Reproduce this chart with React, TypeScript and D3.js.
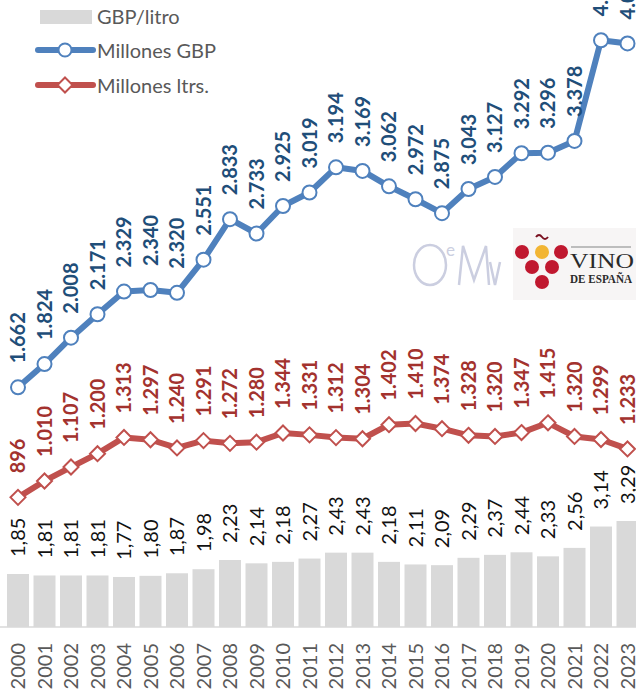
import React from "react";
import * as d3 from "d3";

const years = ["2000","2001","2002","2003","2004","2005","2006","2007","2008","2009","2010","2011","2012","2013","2014","2015","2016","2017","2018","2019","2020","2021","2022","2023"];
const millonesGbp = [1662,1824,2008,2171,2329,2340,2320,2551,2833,2733,2925,3019,3194,3169,3062,2972,2875,3043,3127,3292,3296,3378,4079,4057];
const millonesLtrs = [896,1010,1107,1200,1313,1297,1240,1291,1272,1280,1344,1331,1312,1304,1402,1410,1374,1328,1320,1347,1415,1320,1299,1233];
const gbpLitro = [1.85,1.81,1.81,1.81,1.77,1.80,1.87,1.98,2.23,2.14,2.18,2.27,2.43,2.43,2.18,2.11,2.09,2.29,2.37,2.44,2.33,2.56,3.14,3.29];
const legendLabels = ["GBP/litro", "Millones GBP", "Millones ltrs."];

const width = 636;
const height = 697;
const font = "Lato, 'Open Sans', sans-serif";

const es = d3.formatLocale({ decimal: ",", thousands: ".", grouping: [3], currency: ["", "€"] });
const fmtInt = es.format(",d");
const fmtDec = es.format(".2f");

const diamond = (cx: number, cy: number, r: number) =>
  `M${cx},${cy - r}L${cx + r},${cy}L${cx},${cy + r}L${cx - r},${cy}Z`;

const App = () => {
  const x = d3.scaleBand().domain(years).range([4.75, 640.75]).paddingInner(0.17).paddingOuter(0.085);
  const cx = (y: string) => (x(y) ?? 0) + x.bandwidth() / 2;
  const yLine = d3.scaleLinear().domain([0, 4500]).range([626, 626 - 143.6 * 4.5]);
  const yBar = d3.scaleLinear().domain([0.41, 4.0]).range([627, 627 - 36.8 * 3.59]);

  const line = d3.line<number>().x((_, i) => cx(years[i])).y((d) => yLine(d));

  const blue = "#4F81BD";
  const blueText = "#1F4E79";
  const red = "#C0504D";
  const redText = "#A3322E";
  const serif = "'Liberation Serif', 'DejaVu Serif', serif";

  return (
    <svg width={width} height={height} style={{ position: "absolute", left: 0, top: 0, background: "#fff" }} fontFamily={font}>
      {/* logos */}
      <g fill="none" stroke="#CBCEE0" strokeWidth={2.5}>
        <ellipse cx={430} cy={265} rx={16} ry={20} />
        <path d="M459,285 L463,246 L474,280 L486,246 L489,285" />
        <path d="M490,262 L495,285 L500,262" />
      </g>
      <text x={446} y={256} fontSize={17} fill="#CBCEE0">e</text>
      <rect x={513} y={228} width={123} height={72} fill="#F7F5F5" />
      <g>
        <path d="M536,237 q3,-4 6,0 t6,0" fill="none" stroke="#7A1020" strokeWidth={2} />
        <circle cx={522} cy={252} r={7} fill="#C0182F" />
        <circle cx={542} cy={252} r={7} fill="#F2B533" />
        <circle cx={561} cy={252} r={7} fill="#C0182F" />
        <circle cx={532} cy={267} r={7} fill="#C0182F" />
        <circle cx={552} cy={267} r={7} fill="#C0182F" />
        <circle cx={542} cy={282} r={7} fill="#C0182F" />
        <line x1={571} x2={631} y1={247} y2={247} stroke="#aaa" strokeWidth={1.5} />
        <text x={570} y={268} fontSize={22} fontFamily={serif} fill="#2a2a2a" textLength={64} lengthAdjust="spacingAndGlyphs">VINO</text>
        <text x={570} y={283} fontSize={12} fontWeight={700} fontFamily={serif} fill="#2a2a2a" textLength={62} lengthAdjust="spacingAndGlyphs">DE ESPAÑA</text>
      </g>

      {/* bars */}
      {gbpLitro.map((v, i) => (
        <rect key={years[i]} x={x(years[i])} y={yBar(v)} width={x.bandwidth()} height={yBar.range()[0] - yBar(v)} fill="#D9D9D9" />
      ))}
      <line x1={0} x2={width} y1={627} y2={627} stroke="#D9D9D9" strokeWidth={1.5} />
      {gbpLitro.map((v, i) => (
        <text key={years[i]} transform={`translate(${cx(years[i])},${yBar(v) - 17}) rotate(-90)`} dy="0.36em" fontSize={20} fill="#111">
          {fmtDec(v)}
        </text>
      ))}

      {/* year labels */}
      {years.map((y) => (
        <text key={y} transform={`translate(${cx(y)},643) rotate(-90)`} dy="0.36em" textAnchor="end" fontSize={20} fill="#595959">
          {y}
        </text>
      ))}

      {/* red line */}
      <path d={line(millonesLtrs) ?? ""} fill="none" stroke={red} strokeWidth={6} strokeLinejoin="round" />
      {millonesLtrs.map((v, i) => (
        <path key={i} d={diamond(cx(years[i]), yLine(v), 7.5)} fill="#fff" stroke={red} strokeWidth={2} />
      ))}
      {millonesLtrs.map((v, i) => (
        <text key={i} transform={`translate(${cx(years[i])},${yLine(v) - 24}) rotate(-90)`} dy="0.36em" fontSize={20} fontWeight={700} fill={redText}>
          {fmtInt(v)}
        </text>
      ))}

      {/* blue line */}
      <path d={line(millonesGbp) ?? ""} fill="none" stroke={blue} strokeWidth={6} strokeLinejoin="round" />
      {millonesGbp.map((v, i) => (
        <circle key={i} cx={cx(years[i])} cy={yLine(v)} r={7} fill="#fff" stroke={blue} strokeWidth={2} />
      ))}
      {millonesGbp.map((v, i) => (
        <text key={i} transform={`translate(${cx(years[i])},${yLine(v) - 24}) rotate(-90)`} dy="0.36em" fontSize={20} fontWeight={700} fill={blueText}>
          {fmtInt(v)}
        </text>
      ))}

      {/* legend */}
      <g fontSize={20} fill="#595959">
        <rect x={40} y={10} width={52} height={14} fill="#D9D9D9" />
        <text x={97} y={17} dy="0.35em">{legendLabels[0]}</text>
        <line x1={38} x2={93} y1={50} y2={50} stroke={blue} strokeWidth={6} strokeLinecap="round" />
        <circle cx={65} cy={50} r={6.5} fill="#fff" stroke={blue} strokeWidth={2} />
        <text x={97} y={51} dy="0.35em">{legendLabels[1]}</text>
        <line x1={38} x2={93} y1={85} y2={85} stroke={red} strokeWidth={6} strokeLinecap="round" />
        <path d={diamond(65, 85, 7.5)} fill="#fff" stroke={red} strokeWidth={2} />
        <text x={97} y={86} dy="0.35em">{legendLabels[2]}</text>
      </g>
    </svg>
  );
};

export default App;
